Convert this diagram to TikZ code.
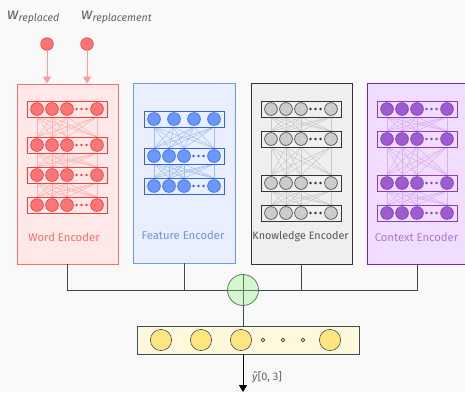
\documentclass[tikz,border=0pt]{standalone}
\usepackage{fontspec}
\setmainfont{Fira Sans}
\usetikzlibrary{arrows.meta}
\definecolor{bgc}{HTML}{F9F9F9}
\definecolor{conc}{HTML}{3D4848}
\definecolor{labc}{HTML}{5A6466}
% word
\definecolor{wbg}{HTML}{FFE8E8}
\definecolor{wedge}{HTML}{FF6B6B}
\definecolor{wline}{HTML}{FF3B3B}
\definecolor{wfill}{HTML}{FF7575}
\definecolor{wdraw}{HTML}{E83535}
\definecolor{wlinkc}{HTML}{FFB0B0}
\definecolor{wtxt}{HTML}{FF6F6F}
% feature
\definecolor{fbg}{HTML}{E9EFFF}
\definecolor{fedge}{HTML}{6C97FF}
\definecolor{fline}{HTML}{2F64F0}
\definecolor{ffill}{HTML}{6A98FF}
\definecolor{fdraw}{HTML}{2F64E8}
\definecolor{flinkc}{HTML}{A0BCF2}
\definecolor{ftxt}{HTML}{6D92EA}
% knowledge
\definecolor{kbg}{HTML}{EFEFEF}
\definecolor{kedge}{HTML}{333333}
\definecolor{kline}{HTML}{333333}
\definecolor{kfill}{HTML}{CCCCCC}
\definecolor{kdraw}{HTML}{3A3A3A}
\definecolor{klinkc}{HTML}{CACACA}
\definecolor{ktxt}{HTML}{555555}
% context
\definecolor{cbg}{HTML}{F1DDFF}
\definecolor{cedge}{HTML}{7A22C4}
\definecolor{cline}{HTML}{8A3CC8}
\definecolor{cfill}{HTML}{9E5CD0}
\definecolor{cdraw}{HTML}{7D34B8}
\definecolor{clinkc}{HTML}{D8B0EE}
\definecolor{ctxt}{HTML}{A878D8}
% sum / output
\definecolor{sumfill}{HTML}{D5F5CF}
\definecolor{sumdraw}{HTML}{5E7D5E}
\definecolor{outbg}{HTML}{FFF8DC}
\definecolor{outedge}{HTML}{3F4D52}
\definecolor{outfill}{HTML}{FFE67E}
\definecolor{inarr}{HTML}{FF9C9C}

\tikzset{
  x=1pt, y=-1pt,
  encbox/.style={draw, line width=0.8pt, minimum width=101pt, minimum height=180pt, inner sep=0pt},
  enclabel/.style={font=\fontsize{11.3}{13}\selectfont, inner sep=0pt},
  wlayer/.style={draw=wline, fill=wbg, line width=0.8pt},
  wunit/.style={draw=wdraw, fill=wfill, line width=0.6pt},
  wdot/.style={fill=wline},
  wlink/.style={draw=wlinkc, line width=0.5pt},
  flayer/.style={draw=fline, fill=fbg, line width=0.8pt},
  funit/.style={draw=fdraw, fill=ffill, line width=0.6pt},
  fdot/.style={fill=fline},
  flink/.style={draw=flinkc, line width=0.5pt},
  klayer/.style={draw=kline, fill=kbg, line width=0.8pt},
  kunit/.style={draw=kdraw, fill=kfill, line width=0.6pt},
  kdot/.style={fill=kline},
  klink/.style={draw=klinkc, line width=0.5pt},
  clayer/.style={draw=cline, fill=cbg, line width=0.8pt},
  cunit/.style={draw=cdraw, fill=cfill, line width=0.6pt},
  cdot/.style={fill=cline},
  clink/.style={draw=clinkc, line width=0.5pt},
  conn/.style={draw=conc, line width=0.9pt},
  inunit/.style={circle, draw=wdraw, fill=wfill, line width=0.6pt, minimum size=12.5pt, inner sep=0pt},
  inarrow/.style={draw=inarr, line width=0.9pt, -{Triangle[length=7pt,width=8pt]}},
}

% layer with dots: x0, y, prefix
\newcommand{\nnlayerdots}[3]{%
  \draw[#3layer] (#1,#2-8) rectangle (#1+80,#2+8);
  \foreach \dx in {10,25,40,70} \draw[#3unit] (#1+\dx,#2) circle[radius=6.4];
  \foreach \dx in {49.5,54.5,59.5} \fill[#3dot] (#1+\dx,#2) circle[radius=1.3];
}
% layer with four evenly spaced units
\newcommand{\nnlayerfour}[3]{%
  \draw[#3layer] (#1,#2-8) rectangle (#1+80,#2+8);
  \foreach \dx in {10,30,50,70} \draw[#3unit] (#1+\dx,#2) circle[radius=6.4];
}
% links: x0, y upper, y lower, prefix, upper positions
\newcommand{\nnlinks}[5]{%
  \foreach \a in {#5} \foreach \b in {10,25,40,70}
    \draw[#4link] (#1+\a,#2+8) -- (#1+\b,#3-8);
}

\begin{document}
\begin{tikzpicture}
\fill[bgc] (0,0) rectangle (465,392);
\useasboundingbox (0,0) rectangle (465,392);
\begin{scope}
\clip (0,0) rectangle (465,392);

% encoder boxes
\node[encbox, draw=wedge, fill=wbg] (word) at (67.5,174) {};
\node[encbox, draw=fedge, fill=fbg, minimum width=102pt] (feat) at (184,173) {};
\node[encbox, draw=kedge, fill=kbg, minimum height=181pt] (know) at (301.5,173.5) {};
\node[encbox, draw=cedge, fill=cbg, minimum height=181pt] (ctx) at (417.5,173.5) {};

% word encoder network
\nnlinks{27}{109}{145}{w}{10,25,40,70}
\nnlinks{27}{145}{175}{w}{10,25,40,70}
\nnlinks{27}{175}{205}{w}{10,25,40,70}
\nnlayerdots{27}{109}{w}
\nnlayerdots{27}{145}{w}
\nnlayerdots{27}{175}{w}
\nnlayerdots{27}{205}{w}
\node[enclabel, text=wtxt] (wlab) at (64,237) {Word Encoder};

% feature encoder network
\nnlinks{144}{119}{156}{f}{10,30,50,70}
\nnlinks{144}{156}{186}{f}{10,25,40,70}
\nnlayerfour{144}{119}{f}
\nnlayerdots{144}{156}{f}
\nnlayerdots{144}{186}{f}
\node[enclabel, text=ftxt] (flab) at (183,235) {Feature Encoder};

% knowledge encoder network
\nnlinks{261}{109}{139}{k}{10,25,40,70}
\nnlinks{261}{139}{183}{k}{10,25,40,70}
\nnlinks{261}{183}{213}{k}{10,25,40,70}
\nnlayerdots{261}{109}{k}
\nnlayerdots{261}{139}{k}
\nnlayerdots{261}{183}{k}
\nnlayerdots{261}{213}{k}
\node[enclabel, text=ktxt, font=\fontsize{10.8}{13}\selectfont] (klab) at (300.5,237) {Knowledge Encoder};

% context encoder network
\nnlinks{377}{109}{139}{c}{10,25,40,70}
\nnlinks{377}{139}{183}{c}{10,25,40,70}
\nnlinks{377}{183}{213}{c}{10,25,40,70}
\nnlayerdots{377}{109}{c}
\nnlayerdots{377}{139}{c}
\nnlayerdots{377}{183}{c}
\nnlayerdots{377}{213}{c}
\node[enclabel, text=ctxt] (clab) at (416.5,237) {Context Encoder};

% inputs
\node[inunit] (in1) at (47,44) {};
\node[inunit] (in2) at (87,44) {};
\draw[inarrow] (in1) -- (in1 |- word.north);
\draw[inarrow] (in2) -- (in2 |- word.north);
\node[anchor=base west, inner sep=0pt, text=labc] (lab1) at (7,19)
  {{\fontsize{16}{16}\selectfont\itshape w}{\fontsize{10.6}{11}\selectfont\itshape\raisebox{-2.5pt}{replaced}}};
\node[anchor=base west, inner sep=0pt, text=labc] (lab2) at (81,19)
  {{\fontsize{16}{16}\selectfont\itshape w}{\fontsize{10.6}{11}\selectfont\itshape\raisebox{-2.5pt}{replacement}}};

% sum node and connectors
\coordinate (sumc) at (243,290);
\draw[conn] (word.south) |- (sumc);
\draw[conn] (ctx.south) |- (sumc);
\draw[conn] (feat.south) -- (feat.south |- sumc);
\draw[conn] (know.south) -- (know.south |- sumc);
\node[circle, draw=sumdraw, fill=sumfill, line width=0.8pt, minimum size=31pt, inner sep=0pt] (sum) at (sumc) {};
\draw[draw=sumdraw, line width=0.8pt] (sum.north) -- (sum.south) (sum.west) -- (sum.east);

% output layer
\node[draw=outedge, fill=outbg, line width=0.8pt, minimum width=222pt, minimum height=28pt, inner sep=0pt] (out) at (248,340) {};
\draw[conn] (sum.south) -- (sum.south |- out.north);
\foreach \cx in {161,201,241,330} \draw[draw=outedge, fill=outfill, line width=0.6pt] (\cx,340) circle[radius=10.6];
\foreach \cx in {263,283,303} \draw[draw=outedge, fill=outfill, line width=0.6pt] (\cx,340) circle[radius=1.9];
\coordinate (yend) at (243,392);
\draw[draw=black, line width=0.8pt, -{Triangle[length=7pt,width=8pt]}] (yend |- out.south) -- (yend);
\node[anchor=west, inner sep=0pt, text=labc, font=\fontsize{11}{12}\selectfont] (ylab) at (252,377) {\textit{ŷ}[0, 3]};
\end{scope}
\end{tikzpicture}
\end{document}
